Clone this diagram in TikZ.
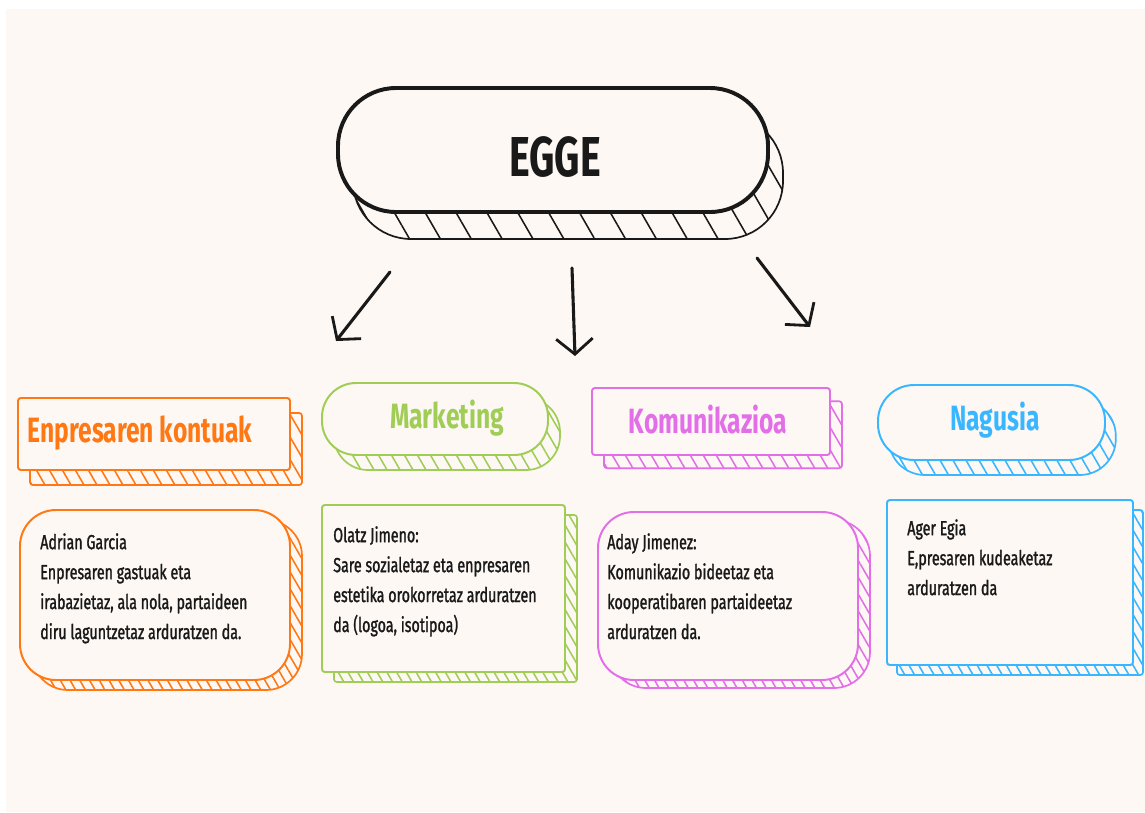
\documentclass[tikz,border=0pt]{standalone}
\usepackage{fontspec}
\usepackage{tikz}
\usetikzlibrary{arrows.meta,shadows,fit,patterns.meta}
\newfontfamily\handfont{Fira Sans}[FakeStretch=0.7]
\newfontfamily\inkfont{Fira Sans}[FakeStretch=0.7,FakeBold=1.3]
\definecolor{egpaper}{RGB}{253,248,244}
\definecolor{egorange}{RGB}{255,120,20}
\definecolor{eggreen}{RGB}{160,205,85}
\definecolor{egpink}{RGB}{226,110,232}
\definecolor{egblue}{RGB}{56,182,255}
\definecolor{egink}{RGB}{25,25,25}
\tikzset{
  slab/.style={draw=#1, line width=1.4pt, fill=egpaper, inner sep=0pt},
  hatch/.style n args={4}{general shadow={shadow xshift=#2, shadow yshift=#3,
      draw=#1, line width=1.2pt, pattern color=#1,
      pattern={Lines[angle=-60,distance=#4,line width=1.1pt]}}},
  title/.style={font=\handfont\bfseries\fontsize{25pt}{28pt}\selectfont, text=#1,
      inner sep=0pt},
  desc/.style={font=\inkfont\fontsize{14.5pt}{21.3pt}\selectfont, text=egink,
      align=left, anchor=north west, inner sep=0pt}
}
\tikzstyle{pointer} = [line width=2.2pt, egink, line cap=round,
  -{Straight Barb[length=11pt,width=26pt,line width=2pt]}]

\begin{document}
\begin{tikzpicture}[x=0.025cm, y=-0.025cm]
    % Page
    \useasboundingbox (0,0) rectangle (1145,812);
    \fill[white] (0,0) rectangle (1145,812);
    \fill[egpaper] (6,9) rectangle (1145,812);

    % Top block
    \node (egge) [slab=egink, line width=2.8pt, rounded corners=1.45cm,
        hatch={egink}{0.375cm}{-0.675cm}{19pt}, fit={(338,88) (768,212)}] {};
    \node (eggetxt) [text=egink, inner sep=0pt,
        font=\handfont\bfseries\fontsize{40pt}{44pt}\selectfont] at (555,157) {EGGE};

    % Arrows
    \coordinate (a1) at (390,272);
    \coordinate (b1) at (336,341);
    \coordinate (a2) at (572,268);
    \coordinate (b2) at (575,356);
    \coordinate (a3) at (757,258);
    \coordinate (b3) at (810,327);
    \draw[pointer] (a1) -- (b1);
    \draw[pointer] (a2) -- (b2);
    \draw[pointer] (a3) -- (b3);

    % Titles
    \node (kontuak) [slab=egorange, rounded corners=2pt,
        hatch={egorange}{0.3cm}{-0.375cm}{8pt}, fit={(18,398) (290,470)}] {};
    \node (marketing) [slab=eggreen, rounded corners=0.85cm,
        hatch={eggreen}{0.3cm}{-0.375cm}{8pt}, fit={(322,383) (548,455)}] {};
    \node (komunikazioa) [slab=egpink, rounded corners=2pt,
        hatch={egpink}{0.3cm}{-0.33cm}{8pt}, fit={(592,388) (830,455)}] {};
    \node (nagusia) [slab=egblue, rounded corners=0.9cm,
        hatch={egblue}{0.27cm}{-0.375cm}{8pt}, fit={(878,385) (1105,460)}] {};

    \node (kontuaktxt) [title=egorange] at (140,433) {Enpresaren kontuak};
    \node (marketingtxt) [title=eggreen] at (447,418) {Marketing};
    \node (komunikaziotxt) [title=egpink] at (708,420) {Komunikazioa};
    \node (nagusiatxt) [title=egblue] at (995,420) {Nagusia};

    % Description boxes
    \node (adrianbox) [slab=egorange, rounded corners=0.9cm,
        hatch={egorange}{0.3cm}{-0.25cm}{6pt}, fit={(20,510) (290,680)}] {};
    \node (olatzbox) [slab=eggreen, rounded corners=2pt,
        hatch={eggreen}{0.3cm}{-0.25cm}{6pt}, fit={(322,505) (565,672)}] {};
    \node (adaybox) [slab=egpink, rounded corners=0.9cm,
        hatch={egpink}{0.3cm}{-0.2cm}{6pt}, fit={(598,512) (858,680)}] {};
    \node (agerbox) [slab=egblue, rounded corners=2pt,
        hatch={egblue}{0.25cm}{-0.25cm}{6pt}, fit={(887,500) (1133,665)}] {};

    % Description texts
    \node (adrian) [desc] at (40,533)
        {Adrian Garcia\\Enpresaren gastuak eta\\irabazietaz, ala nola, partaideen\\diru laguntzetaz arduratzen da.};
    \node (olatz) [desc] at (333,526)
        {Olatz Jimeno:\\Sare sozialetaz eta enpresaren\\estetika orokorretaz arduratzen\\da (logoa, isotipoa)};
    \node (aday) [desc] at (607,533)
        {Aday Jimenez:\\Komunikazio bideetaz eta\\kooperatibaren partaideetaz\\arduratzen da.};
    \node (ager) [desc] at (907,519)
        {Ager Egia\\E,presaren kudeaketaz\\arduratzen da};
\end{tikzpicture}
\end{document}
